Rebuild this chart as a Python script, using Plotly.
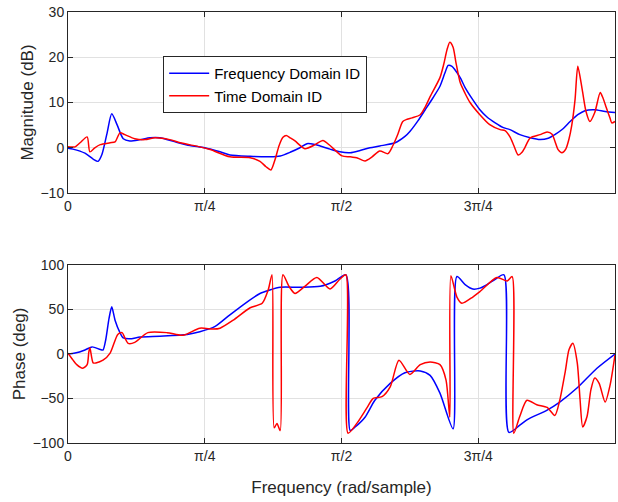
import plotly.graph_objects as go

# Normalized frequency (x pi rad/sample)
mag_fd_f = [0.000, 0.009, 0.031, 0.046, 0.055, 0.062, 0.071, 0.080, 0.090, 0.101, 0.113, 0.132, 0.150, 0.168,
            0.196, 0.223, 0.250, 0.278, 0.296, 0.333, 0.369, 0.388, 0.406, 0.424, 0.437, 0.452, 0.461, 0.479,
            0.497, 0.516, 0.534, 0.552, 0.570, 0.598, 0.616, 0.625, 0.640, 0.653, 0.667, 0.680, 0.689, 0.695,
            0.702, 0.707, 0.717, 0.726, 0.739, 0.753, 0.766, 0.781, 0.795, 0.808, 0.826, 0.845, 0.863, 0.878,
            0.890, 0.905, 0.918, 0.932, 0.945, 0.963, 0.982, 1.000]
mag_fd_db = [-0.1, -0.3, -1.2, -2.5, -3.0, -1.5, 3.0, 7.5, 5.0, 2.0, 1.5, 1.8, 2.2, 2.2,
             1.3, 0.5, 0.0, -0.9, -1.6, -1.9, -2.0, -1.8, -1.0, 0.0, 0.9, 0.7, 0.4, -0.3,
             -0.9, -1.1, -0.6, 0.0, 0.4, 1.1, 2.5, 3.6, 6.0, 8.4, 11.0, 13.6, 16.5, 18.2,
             18.0, 17.3, 15.5, 13.3, 10.8, 8.4, 6.8, 5.5, 4.5, 4.0, 2.9, 2.2, 1.8, 2.1,
             2.9, 4.2, 5.8, 7.3, 8.2, 8.4, 8.0, 7.8]

mag_td_f = [0.000, 0.013, 0.022, 0.035, 0.040, 0.049, 0.059, 0.077, 0.086, 0.095, 0.104, 0.122, 0.141, 0.159,
            0.186, 0.205, 0.241, 0.260, 0.296, 0.333, 0.351, 0.362, 0.371, 0.378, 0.386, 0.393, 0.399, 0.406,
            0.415, 0.433, 0.452, 0.466, 0.479, 0.501, 0.516, 0.530, 0.543, 0.556, 0.570, 0.585, 0.594, 0.603,
            0.612, 0.620, 0.629, 0.644, 0.653, 0.662, 0.680, 0.687, 0.693, 0.698, 0.704, 0.709, 0.717, 0.726,
            0.735, 0.753, 0.771, 0.790, 0.799, 0.808, 0.815, 0.823, 0.830, 0.835, 0.845, 0.863, 0.876, 0.885,
            0.890, 0.896, 0.903, 0.910, 0.916, 0.921, 0.927, 0.932, 0.940, 0.947, 0.954, 0.963, 0.973, 0.978,
            0.984, 0.991, 0.994, 1.000]
mag_td_db = [0.2, 0.2, 1.1, 2.4, -0.9, 0.0, 0.7, 1.1, 1.3, 3.3, 2.9, 2.0, 1.8, 2.2,
             1.8, 1.1, 0.2, -0.4, -2.0, -2.2, -3.0, -4.2, -4.9, -2.8, 0.5, 2.3, 2.7, 2.2,
             1.5, -0.2, 0.7, 1.6, 0.5, -1.8, -2.0, -2.3, -2.9, -2.0, -0.7, -1.3, 0.5, 3.0,
             5.8, 6.3, 6.6, 7.3, 9.0, 11.3, 15.5, 18.5, 21.7, 23.3, 22.2, 19.0, 14.4, 12.0,
             10.0, 7.3, 5.1, 4.0, 3.8, 2.4, 0.5, -1.6, -1.0, 0.0, 2.2, 2.9, 3.5, 3.0,
             1.5, -0.4, -1.1, -0.3, 2.0, 5.0, 10.7, 18.0, 12.9, 8.0, 5.8, 7.8, 12.2, 11.0,
             8.9, 6.5, 5.5, 5.8]

ph_fd_f = [0.000, 0.013, 0.031, 0.044, 0.059, 0.064, 0.069, 0.075, 0.080, 0.086, 0.095, 0.101, 0.113, 0.132,
           0.168, 0.218, 0.241, 0.269, 0.296, 0.324, 0.351, 0.369, 0.388, 0.424, 0.461, 0.488, 0.508, 0.516,
           0.525, 0.543, 0.561, 0.589, 0.616, 0.644, 0.662, 0.680, 0.704, 0.711, 0.726, 0.740, 0.753, 0.766,
           0.781, 0.797, 0.806, 0.826, 0.839, 0.876, 0.899, 0.931, 0.967, 1.000]
ph_fd_deg = [0, 1, 4.5, 8, 5, 4.5, 16, 40, 53, 38, 24, 18, 17, 19,
             20, 22, 25, 31, 44, 57, 68, 72, 75, 75, 76, 82, 89, -86,
             -82, -71, -52, -33, -21, -19, -24, -44, -84, 87, 78, 73, 74, 78,
             84, 89, -88, -80, -74, -63, -54, -38, -16, 0]

ph_td_f = [0.000, 0.007, 0.016, 0.027, 0.035, 0.038, 0.040, 0.046, 0.051, 0.064, 0.077, 0.091, 0.099, 0.104,
           0.110, 0.122, 0.146, 0.181, 0.210, 0.241, 0.265, 0.278, 0.302, 0.333, 0.355, 0.366, 0.373, 0.377,
           0.382, 0.388, 0.393, 0.404, 0.415, 0.433, 0.455, 0.479, 0.497, 0.508, 0.512, 0.528, 0.547, 0.558,
           0.574, 0.589, 0.605, 0.625, 0.644, 0.662, 0.680, 0.691, 0.698, 0.700, 0.711, 0.720, 0.740, 0.753,
           0.784, 0.803, 0.812, 0.815, 0.826, 0.839, 0.857, 0.876, 0.890, 0.899, 0.909, 0.916, 0.923, 0.931,
           0.936, 0.941, 0.949, 0.956, 0.963, 0.971, 0.982, 0.991, 1.000]
ph_td_deg = [1, -5, -12, -16, -12, 2, 7, -10, -10, -7, 1, 22, 24, 18,
             12, 13, 24, 24, 21, 29, 28, 29, 38, 52, 57, 72, 89, -83,
             -78, -86, 89, 76, 68, 76, 86, 73, 84, 89, -89, -78, -60, -50,
             -48, -37, -7, -23, -12, -9, -12, -29, -71, 88, 64, 57, 64, 70,
             86, 82, 87, -89, -70, -52, -57, -60, -69, -52, -20, 5, 12, -10,
             -50, -82, -70, -40, -27, -33, -54, -35, -1]

tick_vals = [0, 0.25, 0.5, 0.75, 1.0]
tick_text = ["0", "π/4", "π/2", "3π/4", "π"]

BLUE = "#0000FF"
RED = "#FF0000"
FONT = "Liberation Sans, Arial, sans-serif"
TXT = "#262626"

fig = go.Figure()
fig.add_trace(go.Scatter(x=mag_fd_f, y=mag_fd_db, mode="lines", name="Frequency Domain ID",
                         line=dict(color=BLUE, width=1.5, shape="spline", smoothing=0.7),
                         xaxis="x", yaxis="y"))
fig.add_trace(go.Scatter(x=mag_td_f, y=mag_td_db, mode="lines", name="Time Domain ID",
                         line=dict(color=RED, width=1.5, shape="spline", smoothing=0.7),
                         xaxis="x", yaxis="y"))
fig.add_trace(go.Scatter(x=ph_fd_f, y=ph_fd_deg, mode="lines", showlegend=False,
                         line=dict(color=BLUE, width=1.5, shape="spline", smoothing=0.7),
                         xaxis="x2", yaxis="y2"))
fig.add_trace(go.Scatter(x=ph_td_f, y=ph_td_deg, mode="lines", showlegend=False,
                         line=dict(color=RED, width=1.5, shape="spline", smoothing=0.7),
                         xaxis="x2", yaxis="y2"))

axis_common = dict(showline=True, linecolor=TXT, linewidth=1, mirror="ticks",
                   ticks="inside", ticklen=5, tickcolor=TXT,
                   showgrid=True, gridcolor="#e1e1e1", gridwidth=1, zeroline=False,
                   tickfont=dict(family=FONT, size=14, color=TXT))

title_font = dict(family=FONT, size=17, color=TXT)

fig.update_layout(
    width=618, height=502,
    margin=dict(l=68, r=3, t=12, b=59),
    paper_bgcolor="white", plot_bgcolor="white",
    font=dict(family=FONT, size=14, color=TXT),
    xaxis=dict(domain=[0, 1], range=[0, 1], anchor="y", tickvals=tick_vals, ticktext=tick_text,
               **axis_common),
    yaxis=dict(domain=[0.58, 1], range=[-10, 30], anchor="x", dtick=10,
               title=dict(text="Magnitude (dB)", font=title_font, standoff=2),
               **axis_common),
    xaxis2=dict(domain=[0, 1], range=[0, 1], anchor="y2", tickvals=tick_vals, ticktext=tick_text,
                title=dict(text="Frequency (rad/sample)", font=title_font, standoff=18),
                **axis_common),
    yaxis2=dict(domain=[0, 0.413], range=[-100, 100], anchor="x2", dtick=50,
                title=dict(text="Phase (deg)", font=title_font, standoff=2),
                **axis_common),
    legend=dict(x=0.174, y=0.898, xanchor="left", yanchor="top",
                bgcolor="white", bordercolor=TXT, borderwidth=1,
                font=dict(family=FONT, size=15, color="#000000"),
                tracegroupgap=0, itemwidth=40),
    showlegend=True,
)

fig.write_html("out.html")
